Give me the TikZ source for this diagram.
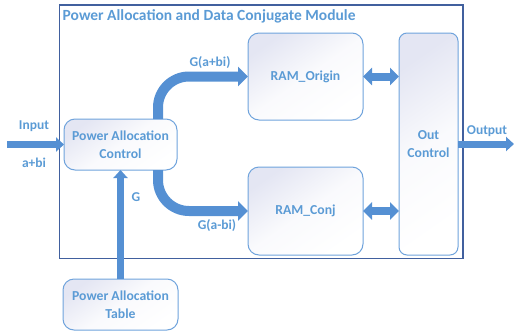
\documentclass[tikz,border=0pt]{standalone}
\usepackage{fontspec}
\setmainfont{Carlito}
\usetikzlibrary{arrows.meta}
\definecolor{txtblue}{HTML}{5B9BD5}
\definecolor{boxline}{HTML}{6FA3DC}
\definecolor{boxfill}{HTML}{E4E6F3}
\definecolor{arrblue}{HTML}{5590D3}
\definecolor{framecol}{HTML}{41609E}
\tikzset{
  lbl/.style={text=txtblue, font=\bfseries\fontsize{13.5}{15}\selectfont, align=center, inner sep=0pt},
  blockbox/.style={draw=boxline, line width=1pt, rounded corners=11pt,
    shading=axis, top color=boxfill, bottom color=white, middle color=white!80!boxfill, shading angle=35,
    text=txtblue, font=\bfseries\fontsize{13.7}{18}\selectfont, align=center,
    inner sep=0pt, outer sep=0pt},
  bigarrow/.style={draw=arrblue, line width=10pt, -{Triangle[width=19pt,length=10pt]}},
  thinarrow/.style={draw=arrblue, line width=7pt, -{Triangle[width=14pt,length=8pt]}},
  dblarrow/.style={draw=arrblue, line width=8pt, {Triangle[width=17pt,length=9pt]}-{Triangle[width=17pt,length=9pt]}},
}
\begin{document}
\begin{tikzpicture}[x=1pt,y=-1pt]
\useasboundingbox (0,0) rectangle (514,335);
% module frame and title
\node[draw=framecol, line width=1.2pt, minimum width=403.5pt, minimum height=253.5pt, inner sep=0pt] (frame) at (261.25,131.75) {};
\node[lbl, anchor=west, font=\bfseries\fontsize{15.5}{17}\selectfont] (title) at (62.5,16) {Power Allocation and Data Conjugate Module};
% blocks
\node[blockbox, minimum width=113pt, minimum height=51pt] (pac) at (120.5,144.5) {Power Allocation\\Control};
\node[blockbox, minimum width=115pt, minimum height=87pt] (ro) at (305.5,76.5) {RAM\_Origin};
\node[blockbox, minimum width=115pt, minimum height=88pt] (rc) at (305.5,211) {RAM\_Conj};
\node[blockbox, minimum width=59pt, minimum height=222pt, rounded corners=8pt] (oc) at (428.5,144) {Out\\Control};
\node[blockbox, minimum width=115pt, minimum height=51pt] (pat) at (120.5,304.5) {Power Allocation\\Table};
% free ends
\coordinate (inp) at (7,144.5);
\coordinate (outp) at (514,144);
% connectors
\draw[thinarrow] (inp) -- (pac.west);
\draw[thinarrow] (pat.north) -- (pac.south);
\draw[bigarrow, rounded corners=31pt] ([xshift=37.5pt]pac.north) |- (ro.west);
\draw[bigarrow, rounded corners=31pt] ([xshift=37.5pt]pac.south) |- (rc.west);
\draw[dblarrow] (ro.east) -- (ro.east -| oc.west);
\draw[dblarrow] (rc.east) -- (rc.east -| oc.west);
\draw[thinarrow] (oc.east) -- (outp);
% labels
\node[lbl] (linput) at (34,126) {Input};
\node[lbl] (lab) at (34,163) {a+bi};
\node[lbl] (lout) at (487,131) {Output};
\node[lbl] (lg) at (136,197) {G};
\node[lbl] (lgp) at (210,63) {G(a+bi)};
\node[lbl] (lgm) at (217,226) {G(a-bi)};
\end{tikzpicture}
\end{document}
